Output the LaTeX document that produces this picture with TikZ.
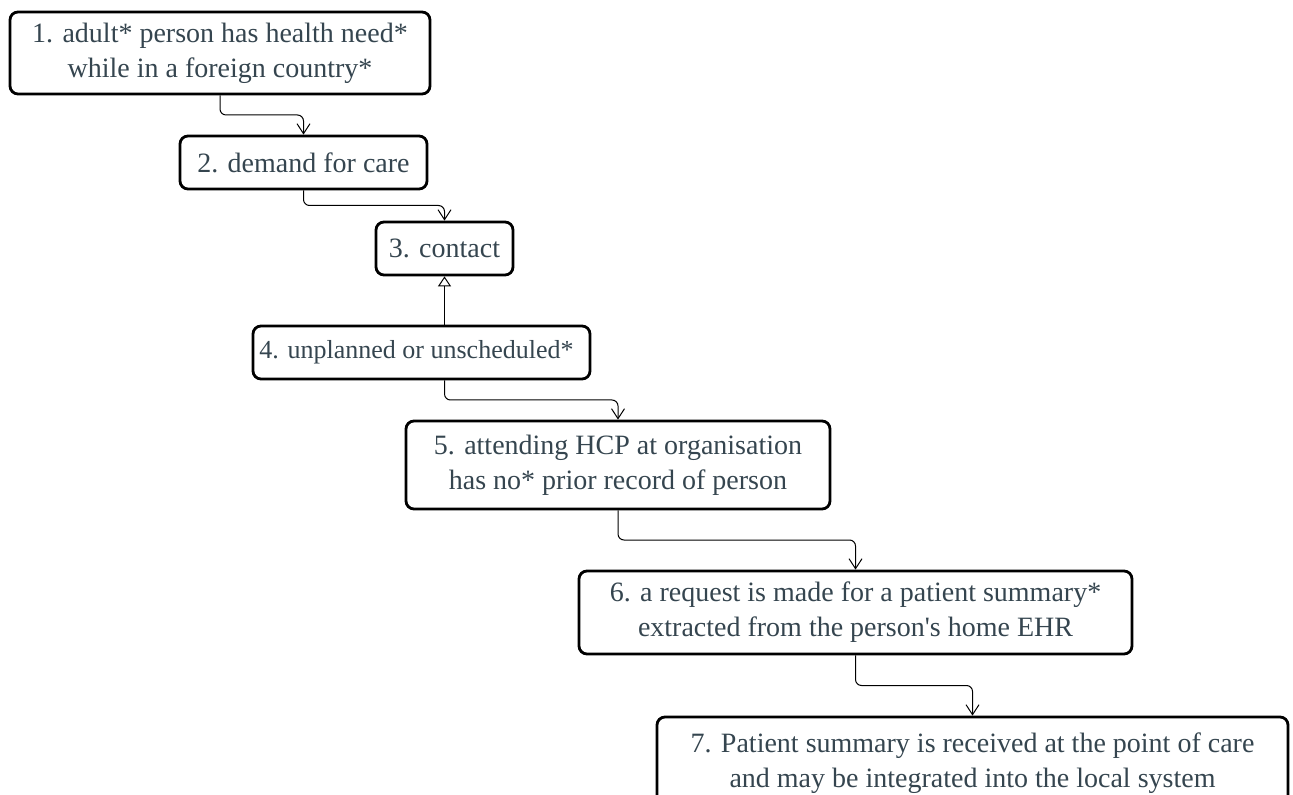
\documentclass[tikz,border=0pt]{standalone}
\usepackage{fontspec}
\setmainfont{Liberation Serif}
\usepackage{tikz}
\usetikzlibrary{arrows.meta}
\usetikzlibrary{calc}
\definecolor{textgrey}{HTML}{35454F}
\tikzset{
    stepbox/.style={
        draw, line width=1.4pt, rounded corners=4pt,
        align=center, text=textgrey, inner sep=0pt,
        font=\fontsize{14}{17.5}\selectfont
    },
    flow/.style={
        line width=0.5pt, rounded corners=3pt,
        -{Straight Barb[length=5pt,width=6.5pt]}
    }
}
\newcommand{\flowStep}[2] {
	\draw[flow] (#1) |- ($(#1)!0.5!(#2)$) -| (#2);
}

\begin{document}
\begin{tikzpicture}[x=0.5pt,y=-0.5pt]
		\useasboundingbox (0,0) rectangle (1293,795);

		% Steps
		\node[stepbox, minimum width=210pt, minimum height=41pt] (b1) at (220,53)
			{1. adult* person has health need*\\while in a foreign country*};
		\node[stepbox, minimum width=123.5pt, minimum height=26.5pt] (b2) at (303.5,162.5)
			{2. demand for care};
		\node[stepbox, minimum width=68.5pt, minimum height=26.5pt] (b3) at (444.5,248.5)
			{3. contact};
		\node[stepbox, minimum width=168.5pt, minimum height=26.5pt,
			font=\fontsize{13}{16}\selectfont] (b4) at (421.5,352.5)
			{4. unplanned or unscheduled*\hspace*{5pt}};
		\node[stepbox, minimum width=212pt, minimum height=44pt] (b5) at (618,465)
			{5. attending HCP at organisation\\has no* prior record of person};
		\node[stepbox, minimum width=276.5pt, minimum height=41.5pt] (b6) at (855.5,612.5)
			{6. a request is made for a patient summary*\\extracted from the person\textquotesingle s home EHR};
		\node[stepbox, minimum width=315.5pt, minimum height=46pt, text depth=3pt] (b7) at (972.5,763)
			{7. Patient summary is received at the point of care\\and may be integrated into the local system};

		% Connectors
		\coordinate (b4in) at (b4.north -| b3.south);
		\coordinate (b4out) at (b4.south -| b3.south);

		\flowStep{b1.south}{b2.north}
		\flowStep{b2.south}{b3.north}
		\draw[line width=0.5pt, -{Triangle[open,length=5pt,width=6.5pt]}] (b4in) -- (b3.south);
		\flowStep{b4out}{b5.north}
		\flowStep{b5.south}{b6.north}
		\flowStep{b6.south}{b7.north}

	\end{tikzpicture}
\end{document}
